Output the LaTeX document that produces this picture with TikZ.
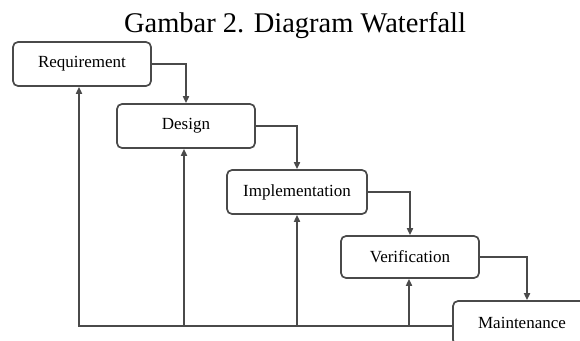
\documentclass[tikz,border=0pt]{standalone}
\usepackage{fontspec}
\setmainfont{Liberation Serif}
\usetikzlibrary{arrows.meta}
\definecolor{linec}{HTML}{4a4a4a}
\tikzset{
  stage/.style={draw=linec, line width=1.7pt, rounded corners=5pt, minimum height=44pt, inner sep=0pt, font=\fontsize{17}{20}\selectfont, text=black},
  arr/.style={draw=linec, line width=1.7pt, -{Triangle[length=7pt,width=6pt]}}
}
\begin{document}
\begin{tikzpicture}[x=1pt,y=-1pt]
\useasboundingbox (0,0) rectangle (580,340);
\clip (0,0) rectangle (580,340);
\fill[white] (0,0) rectangle (580,340);
\node[anchor=base, font=\fontsize{28.5}{32}\selectfont] (title) at (295,32) {Gambar 2. Diagram Waterfall};
\node[stage, minimum width=138pt] (req) at (82,64) {Requirement};
\node[stage, minimum width=138pt] (des) at (186,126) {Design};
\node[stage, minimum width=140pt] (imp) at (297,192) {Implementation};
\node[stage, minimum width=138pt, minimum height=42pt] (ver) at (410,257) {Verification};
\node[stage, minimum width=138pt] (mai) at (522,323) {Maintenance};
\draw[arr] (req.east) -| (des.north);
\draw[arr] (des.east) -| (imp.north);
\draw[arr] (imp.east) -| (ver.north);
\draw[arr] (ver.east) -| ([xshift=5pt]mai.north);
\coordinate (c0) at (79,326);
\draw[arr] (mai.west |- c0) -- (c0) -- (c0 |- req.south);
\draw[arr] ([xshift=-2pt]des.south |- c0) -- ([xshift=-2pt]des.south);
\draw[arr] (imp.south |- c0) -- (imp.south);
\draw[arr] ([xshift=-1pt]ver.south |- c0) -- ([xshift=-1pt]ver.south);
\end{tikzpicture}
\end{document}
